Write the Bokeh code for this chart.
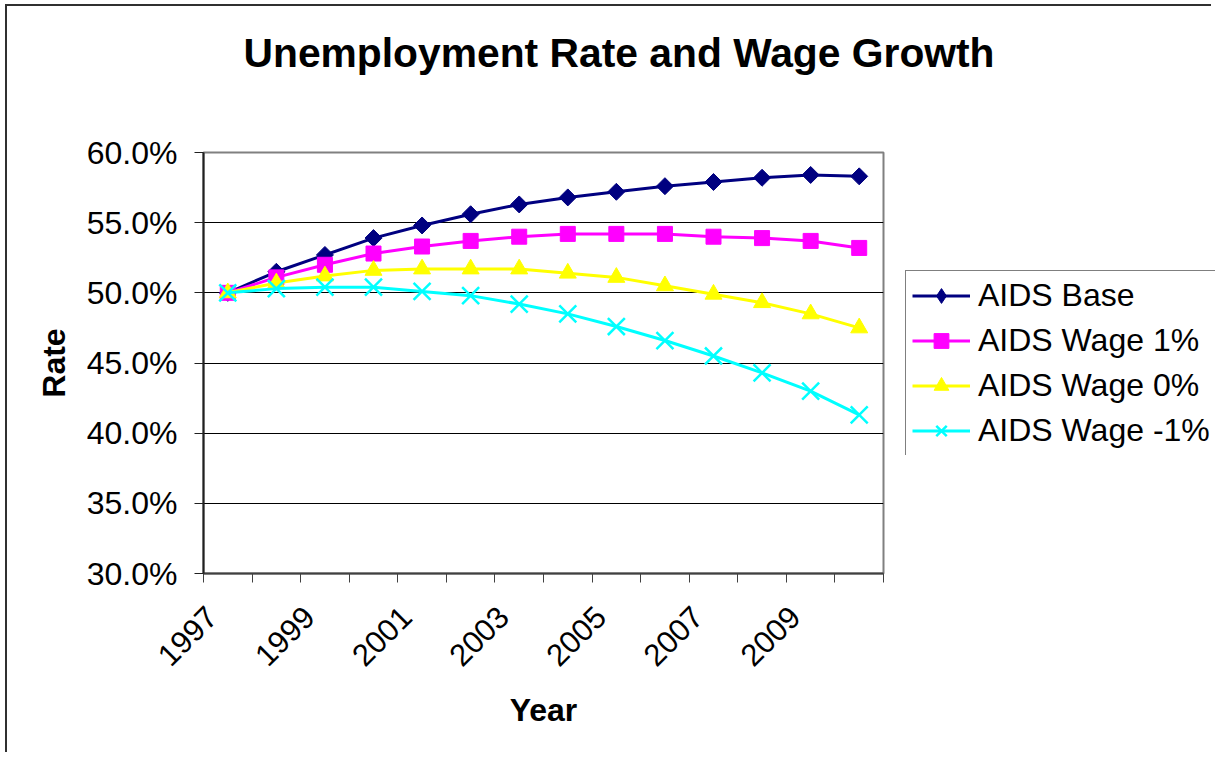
from math import pi

from bokeh.embed import file_html
from bokeh.models import (Div, FixedTicker, Legend, LegendItem,
                          NumeralTickFormatter, Range1d, Title)
from bokeh.plotting import figure
from bokeh.resources import INLINE

# ---- data -------------------------------------------------------------
years = list(range(1997, 2011))

aids_base = [0.500, 0.515, 0.527, 0.539, 0.548, 0.556, 0.563, 0.568,
             0.572, 0.576, 0.579, 0.582, 0.584, 0.583]
aids_wage_p1 = [0.500, 0.511, 0.520, 0.528, 0.533, 0.537, 0.540, 0.542,
                0.542, 0.542, 0.540, 0.539, 0.537, 0.532]
aids_wage_0 = [0.500, 0.507, 0.512, 0.516, 0.517, 0.517, 0.517, 0.514,
               0.511, 0.505, 0.499, 0.493, 0.485, 0.475]
aids_wage_m1 = [0.500, 0.503, 0.504, 0.504, 0.501, 0.498, 0.492, 0.485,
                0.476, 0.466, 0.455, 0.443, 0.430, 0.413]

series_names = ["AIDS Base", "AIDS Wage 1%", "AIDS Wage 0%", "AIDS Wage -1%"]
series_values = [aids_base, aids_wage_p1, aids_wage_0, aids_wage_m1]

label_years = years[::2]
year_tick_labels = [str(y) for y in label_years]
rate_ticks = [0.30, 0.35, 0.40, 0.45, 0.50, 0.55, 0.60]

# ---- styling ----------------------------------------------------------
FONT = "Liberation Sans"
colors = ["#000080", "#FF00FF", "#FFFF00", "#00FFFF"]
# a 45-degree square reads as the diamond in the plot; the key uses "diamond"
plot_markers = ["square", "square", "triangle", "x"]
key_markers = ["diamond", "square", "triangle", "x"]
marker_sizes = [12, 15, 17, 24]
marker_angles = [pi / 4, 0, 0, 0]
LABEL_SHIFT = 0.33  # rotated year labels end a little left of their category

p = figure(
    width=1200, height=745,
    output_backend="svg", toolbar_location=None,
    x_range=Range1d(1996.5, 2010.5), y_range=Range1d(0.30, 0.60),
    min_border_left=196, min_border_right=324,
    min_border_top=146, min_border_bottom=178,
    title=None,
)
p.styles = {"margin-left": "7px", "margin-top": "6px"}
p.background_fill_color = "white"
p.border_fill_color = "white"
p.outline_line_color = "#808080"
p.outline_line_width = 2

# empty strip between the heading and the plot area, then the heading
p.add_layout(Title(text=" ", text_font_size="1px", standoff=69), "above")
p.add_layout(Title(text="Unemployment Rate and Wage Growth", text_font=FONT,
                   text_font_size="40.8px", text_font_style="bold",
                   text_color="black", align="left", offset=40, standoff=10),
             "above")

# horizontal grid lines only
p.xgrid.visible = False
p.ygrid.ticker = FixedTicker(ticks=rate_ticks[1:-1])
p.ygrid.grid_line_color = "black"
p.ygrid.grid_line_width = 1

# category axis: tick marks between years, labels every second year
xaxis = p.xaxis[0]
label_pos = [y - LABEL_SHIFT for y in label_years]
xaxis.ticker = FixedTicker(ticks=label_pos,
                           minor_ticks=[years[0] - 0.5 + i for i in range(len(years) + 1)])
xaxis.major_label_overrides = dict(zip(label_pos, year_tick_labels))
xaxis.major_tick_out = 0
xaxis.major_tick_in = 0
xaxis.minor_tick_out = 9
xaxis.minor_tick_in = 0
xaxis.minor_tick_line_color = "#404040"
xaxis.minor_tick_line_width = 1
xaxis.axis_line_color = "#404040"
xaxis.axis_line_width = 2
xaxis.major_label_orientation = pi / 4
xaxis.major_label_standoff = 29
xaxis.major_label_text_font = FONT
xaxis.major_label_text_font_size = "31px"
xaxis.major_label_text_color = "black"
xaxis.axis_label = "Year"
xaxis.axis_label_text_font = FONT
xaxis.axis_label_text_font_size = "32px"
xaxis.axis_label_text_font_style = "bold"
xaxis.axis_label_text_color = "black"
xaxis.axis_label_standoff = 13

yaxis = p.yaxis[0]
yaxis.ticker = FixedTicker(ticks=rate_ticks, minor_ticks=[])
yaxis.formatter = NumeralTickFormatter(format="0.0%")
yaxis.major_tick_out = 9
yaxis.major_tick_in = 0
yaxis.major_tick_line_color = "#202020"
yaxis.axis_line_color = "#202020"
yaxis.axis_line_width = 2
yaxis.major_label_standoff = 17
yaxis.major_label_text_font = FONT
yaxis.major_label_text_font_size = "32px"
yaxis.major_label_text_color = "black"
yaxis.axis_label = "Rate"
yaxis.axis_label_text_font = FONT
yaxis.axis_label_text_font_size = "32px"
yaxis.axis_label_text_font_style = "bold"
yaxis.axis_label_text_color = "black"
yaxis.axis_label_standoff = 12


# ---- series -----------------------------------------------------------
def draw_series(fig, marker_kinds):
    items = []
    for name, vals, col, mk, sz, ang in zip(series_names, series_values, colors,
                                            marker_kinds, marker_sizes, marker_angles):
        ln = fig.line(years, vals, line_color=col, line_width=3)
        pts = fig.scatter(years, vals, marker=mk, size=sz, angle=ang,
                          fill_color=col, line_color=col,
                          line_width=2.5 if mk == "x" else 1)
        items.append(LegendItem(label=name, renderers=[ln, pts]))
    return items


draw_series(p, plot_markers)

# ---- legend box, to the right of the plot area ------------------------
key = figure(
    width=310, height=185,
    output_backend="svg", toolbar_location=None,
    x_range=Range1d(0, 1), y_range=Range1d(0, 1),
    x_axis_location=None, y_axis_location=None,
    min_border=0, title=None,
)
key.grid.visible = False
key.outline_line_color = None
key.background_fill_color = None
key.border_fill_color = None
key.styles = {"position": "absolute", "left": "905px", "top": "270px"}

legend = Legend(
    items=draw_series(key, key_markers), location="top_left", margin=0,
    padding=6, spacing=8, glyph_width=58, glyph_height=37,
    label_height=37, label_width=250, label_standoff=8,
    label_text_font=FONT, label_text_font_size="32px", label_text_color="black",
    border_line_color="black", border_line_width=1,
    background_fill_color="white", background_fill_alpha=1.0,
)
key.add_layout(legend, "center")

# edge of the chart area along the left and top of the page
edge = Div(text="", width=1206, height=748, margin=0,
           styles={"position": "absolute", "left": "5px", "top": "4px",
                   "border-left": "2px solid #303030",
                   "border-top": "2px solid #303030",
                   "pointer-events": "none"})

open("out.html", "w").write(file_html([p, key, edge], INLINE))
